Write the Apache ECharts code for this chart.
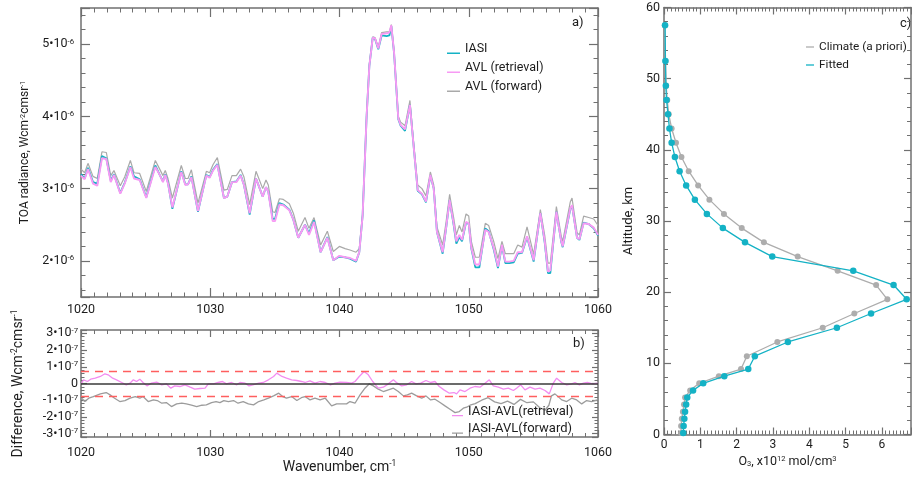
<!DOCTYPE html>
<html>
<head>
<meta charset="utf-8">
<script src="https://cdn.jsdelivr.net/npm/echarts@6/dist/echarts.min.js"></script>
<style>
  html, body { margin: 0; padding: 0; background: #fff; }
  #main { width: 912px; height: 477px; }
</style>
</head>
<body>
<div id="main"></div>
<script>
// a) TOA radiance spectra, values in units of 1e-6 W cm-2 cm sr-1
var wnA = [
  1020.00,1020.28,1020.54,1020.93,1021.26,1021.62,1021.96,1022.30,1022.55,1023.04,
  1023.38,1023.82,1024.10,1024.54,1025.05,1025.75,1026.09,1026.34,1026.52,1026.73,
  1027.07,1027.76,1028.07,1028.28,1028.54,1029.05,1029.70,1029.95,1030.21,1030.55,
  1031.06,1031.32,1031.68,1032.02,1032.35,1032.61,1033.05,1033.54,1034.06,1034.31,
  1034.49,1034.83,1035.01,1035.35,1035.65,1036.12,1036.43,1036.81,1037.33,1037.64,
  1038.03,1038.54,1039.06,1039.52,1039.99,1040.43,1040.81,1041.28,1041.53,1041.79,
  1042.10,1042.31,1042.57,1042.75,1043.00,1043.26,1043.65,1043.86,1044.01,1044.22,
  1044.55,1044.73,1045.07,1045.45,1045.71,1046.05,1046.38,1046.69,1047.03,1047.29,
  1047.54,1047.98,1048.24,1048.52,1048.83,1049.04,1049.27,1049.48,1049.79,1050.00,
  1050.20,1050.51,1050.82,1051.28,1051.54,1051.93,1052.26,1052.57,1052.83,1053.14,
  1053.48,1053.79,1054.12,1054.51,1055.02,1055.54,1055.88,1056.13,1056.31,1056.78,
  1057.16,1057.27,1057.86,1057.99,1058.38,1058.56,1058.89,1059.28,1059.67,1060.00
];
var iasi = [
  3.20,3.14,3.29,3.09,3.07,3.45,3.42,3.11,3.20,2.94,
  3.08,3.31,3.17,3.13,2.88,3.32,3.19,3.10,3.20,3.08,
  2.72,3.24,3.06,3.06,3.17,2.68,3.19,3.16,3.26,3.34,
  2.87,2.89,3.09,3.10,3.19,3.05,2.64,3.14,2.89,3.02,
  2.96,2.58,2.58,2.80,2.78,2.71,2.57,2.32,2.50,2.38,
  2.56,2.12,2.33,2.01,2.06,2.05,2.03,1.99,2.12,2.63,
  4.01,4.70,5.09,5.07,4.93,5.12,5.11,5.12,5.25,4.88,
  3.96,3.87,3.80,4.16,3.64,2.97,2.92,2.81,3.18,3.00,
  2.40,2.10,2.44,2.84,2.50,2.24,2.33,2.27,2.53,2.51,
  2.17,1.91,1.91,2.45,2.41,2.16,1.90,2.21,1.97,1.97,
  1.98,2.10,2.11,2.33,1.99,2.66,2.25,1.83,1.83,2.68,
  2.26,2.19,2.72,2.76,2.32,2.29,2.53,2.51,2.45,2.35
];
var avlRet = [
  3.18,3.13,3.27,3.07,3.04,3.42,3.41,3.09,3.19,2.93,
  3.07,3.30,3.14,3.12,2.87,3.30,3.19,3.09,3.19,3.07,
  2.74,3.23,3.05,3.06,3.16,2.69,3.18,3.15,3.25,3.33,
  2.87,2.89,3.09,3.09,3.18,3.05,2.66,3.14,2.89,3.02,
  2.96,2.55,2.55,2.78,2.77,2.70,2.57,2.32,2.50,2.36,
  2.54,2.12,2.32,2.01,2.07,2.05,2.04,2.00,2.12,2.63,
  4.01,4.70,5.09,5.08,4.94,5.14,5.15,5.16,5.26,4.89,
  3.97,3.88,3.82,4.16,3.64,2.98,2.93,2.82,3.19,3.00,
  2.40,2.12,2.45,2.84,2.52,2.27,2.36,2.29,2.54,2.52,
  2.18,1.95,1.95,2.43,2.40,2.18,1.92,2.22,1.99,1.99,
  2.00,2.12,2.12,2.34,2.01,2.66,2.27,1.85,1.87,2.68,
  2.27,2.20,2.73,2.77,2.32,2.30,2.52,2.51,2.46,2.36
];
var avlFwd = [
  3.27,3.22,3.35,3.17,3.14,3.51,3.50,3.18,3.25,3.04,
  3.16,3.39,3.22,3.21,2.96,3.39,3.27,3.18,3.25,3.14,
  2.87,3.32,3.14,3.14,3.26,2.80,3.24,3.22,3.33,3.43,
  2.98,2.99,3.18,3.18,3.27,3.16,2.78,3.24,3.00,3.12,
  3.05,2.68,2.67,2.86,2.85,2.79,2.66,2.41,2.60,2.45,
  2.60,2.22,2.41,2.13,2.20,2.17,2.15,2.12,2.17,2.65,
  4.03,4.72,5.10,5.09,4.96,5.16,5.17,5.17,5.27,4.90,
  4.00,3.92,3.87,4.22,3.68,3.05,3.00,2.90,3.23,3.05,
  2.47,2.22,2.53,2.92,2.60,2.36,2.49,2.40,2.65,2.62,
  2.27,2.05,2.05,2.52,2.49,2.27,2.03,2.27,2.10,2.10,
  2.10,2.22,2.19,2.47,2.09,2.71,2.35,1.97,1.97,2.75,
  2.34,2.27,2.82,2.87,2.39,2.36,2.62,2.60,2.58,2.49
];

// b) differences, units of 1e-7
var wnDiffRet = [
  1020.05,1020.2,1020.5,1020.75,1021.1,1021.5,1021.85,1022.1,1022.45,1022.75,
  1023.15,1023.5,1023.8,1024.05,1024.3,1024.55,1024.8,1025.1,1025.45,1025.85,
  1026.25,1026.6,1026.95,1027.25,1027.65,1028.05,1028.45,1028.8,1029.2,1029.6,
  1029.85,1030.25,1030.6,1030.95,1031.25,1031.65,1032.05,1032.3,1032.7,1033.0,
  1033.3,1033.75,1034.1,1034.5,1034.9,1035.15,1035.55,1035.9,1036.3,1036.7,
  1037.05,1037.33,1037.72,1038.1,1038.5,1038.9,1039.3,1039.65,1040.04,1040.55,
  1040.94,1041.2,1041.53,1041.9,1042.23,1042.57,1043.0,1043.39,1043.78,1044.17,
  1044.47,1044.81,1045.2,1045.58,1045.92,1046.28,1046.69,1047.05,1047.39,1047.72,
  1048.08,1048.5,1048.86,1049.06,1049.32,1049.71,1050.1,1050.48,1050.87,1051.26,
  1051.59,1051.9,1052.29,1052.68,1053.06,1053.45,1053.7,1054.02,1054.35,1054.74,
  1055.13,1055.51,1055.9,1056.23,1056.54,1056.8,1057.19,1057.58,1057.96,1058.22,
  1058.56,1058.87,1059.18,1059.59,1059.97
];
var diffRet = [
  0.02,0.22,0.12,0.26,0.32,0.42,0.58,0.52,0.32,0.22,
  0.06,-0.08,0.02,0.22,0.12,0.26,0.06,-0.14,0.02,0.08,
  -0.08,-0.02,-0.28,-0.14,-0.18,-0.08,-0.22,-0.34,-0.30,-0.28,
  -0.02,-0.02,0.06,0.12,-0.02,0.06,-0.08,0.06,0.02,-0.14,
  -0.08,0.02,0.06,0.22,0.42,0.62,0.42,0.32,0.22,0.18,
  0.12,0.06,0.16,0.02,0.12,0.06,-0.08,0.02,0.08,0.06,
  0.02,0.12,0.42,0.72,0.52,0.12,-0.28,-0.22,-0.02,0.22,
  0.02,-0.14,-0.08,0.12,-0.02,0.02,0.18,0.06,0.12,-0.18,
  -0.38,-0.58,-0.54,-0.62,-0.38,-0.48,-0.28,-0.18,-0.22,0.02,
  0.22,-0.14,-0.22,-0.34,-0.28,-0.42,-0.28,-0.08,-0.38,-0.22,
  -0.34,-0.28,-0.42,-0.62,0.02,0.32,0.06,-0.08,-0.02,0.06,
  -0.08,0.02,0.06,-0.02,0.02
];
var wnDiffFwd = [
  1020.05,1020.3,1020.6,1020.95,1021.5,1021.95,1022.25,1022.6,1023.0,1023.4,
  1023.8,1024.2,1024.55,1024.8,1025.2,1025.6,1025.9,1026.25,1026.6,1027.0,
  1027.4,1027.8,1028.15,1028.55,1028.95,1029.35,1029.7,1030.1,1030.45,1030.75,
  1031.05,1031.4,1031.8,1032.15,1032.55,1032.95,1033.35,1033.75,1034.15,1034.5,
  1034.9,1035.3,1035.6,1035.9,1036.3,1036.7,1037.05,1037.33,1037.72,1038.1,
  1038.5,1038.9,1039.39,1039.78,1040.17,1040.55,1040.81,1041.2,1041.59,1041.97,
  1042.31,1042.62,1043.0,1043.39,1043.78,1044.17,1044.55,1044.94,1045.25,1045.58,
  1045.97,1046.36,1046.69,1047.05,1047.39,1047.78,1048.16,1048.55,1048.94,1049.27,
  1049.58,1049.84,1050.1,1050.5,1051.0,1051.5,1052.0,1052.5,1053.0,1053.5,
  1054.0,1054.5,1055.0,1055.5,1055.9,1056.2,1056.4,1056.67,1057.19,1057.58,
  1057.96,1058.35,1058.74,1059.12,1059.5,1059.97
];
var diffFwd = [
  -0.88,-1.08,-0.88,-0.78,-0.62,-0.54,-0.68,-0.88,-1.08,-1.02,
  -0.88,-0.78,-0.88,-0.78,-1.08,-0.98,-1.02,-1.18,-1.14,-1.38,
  -1.22,-1.18,-1.22,-1.30,-1.38,-1.30,-1.28,-1.14,-1.08,-1.14,
  -1.02,-1.08,-1.02,-1.18,-1.08,-1.22,-1.28,-1.08,-0.98,-0.88,
  -0.74,-0.58,-0.78,-0.88,-0.78,-1.02,-0.85,-0.78,-0.98,-0.88,
  -0.98,-0.88,-1.34,-1.22,-1.22,-1.22,-1.08,-1.18,-0.68,-0.28,
  -0.02,-0.14,-0.34,-0.48,-0.38,-0.28,-0.48,-0.74,-0.68,-0.58,
  -0.74,-0.88,-0.74,-0.98,-0.94,-1.14,-1.34,-1.54,-1.74,-1.68,
  -1.48,-1.42,-1.30,-1.20,-1.00,-0.85,-1.10,-1.20,-1.05,-1.25,
  -0.95,-1.15,-1.10,-1.45,-1.60,-1.30,-0.74,-0.62,-0.98,-1.08,
  -0.88,-0.98,-1.22,-1.02,-1.08,-0.98
];
var diffBand = 0.75;

// c) ozone profile, altitude in km, O3 in 1e12 mol/cm3
var altitude = [0.2,1.2,2.2,3.2,4.2,5.2,6.2,7.2,8.2,9.2,11,13,15,17,19,21,23,25,27,29,31,33,35,37,39,41,43,45,47,49,52.5,57.5];
var climate = [0.47,0.47,0.49,0.52,0.55,0.58,0.72,0.97,1.51,2.12,2.28,3.12,4.37,5.24,6.15,5.84,4.78,3.68,2.75,2.14,1.65,1.25,0.94,0.68,0.48,0.33,0.21,0.13,0.09,0.06,0.04,0.02];
var fitted = [0.53,0.54,0.56,0.58,0.61,0.64,0.80,1.08,1.66,2.32,2.50,3.41,4.76,5.70,6.68,6.32,5.21,2.98,2.23,1.62,1.18,0.85,0.61,0.43,0.30,0.21,0.15,0.11,0.07,0.05,0.04,0.03];

var font = 'Roboto, sans-serif';
var ink = '#1c1c1c';
var frameColor = '#707070';
var cCyan = '#14b2c5';
var cPink = '#f79af4';
var cGray = '#a9a9a9';
var cBand = '#ff5f5f';

function zip(xs, ys) {
    return xs.map(function (x, i) { return [x, ys[i]]; });
}

function frameAxis(grid, pos, min, max, o) {
    o = o || {};
    var ax = {
        type: 'value', gridIndex: grid, position: pos, min: min, max: max,
        axisLine: { show: true, onZero: false, lineStyle: { color: frameColor, width: 1.5 } },
        axisTick: { show: true, inside: true, length: o.major || 9, lineStyle: { color: frameColor, width: 1.2 } },
        minorTick: { show: true, splitNumber: o.minor || 5, length: o.minorLen || 4.5, lineStyle: { color: frameColor, width: 1 } },
        splitLine: { show: false },
        minorSplitLine: { show: false },
        axisLabel: { show: false }
    };
    if (o.interval) ax.interval = o.interval;
    if (o.splitNumber) ax.splitNumber = o.splitNumber;
    if (o.label) ax.axisLabel = o.label;
    if (o.name) {
        ax.name = o.name;
        ax.nameLocation = 'middle';
        ax.nameGap = o.nameGap;
        if (o.nameRotate) ax.nameRotate = o.nameRotate;
        ax.nameTextStyle = o.nameStyle;
    }
    return ax;
}

function supLabel(size, exp, margin) {
    return {
        show: true, margin: margin, color: ink, fontFamily: font, fontSize: size,
        formatter: function (v) {
            if (Math.abs(v - Math.round(v)) > 1e-6) return '';
            if (v === 0) return '{m|0}';
            return '{m|' + v + '•10}{s|' + exp + '}';
        },
        rich: {
            m: { fontSize: size, fontFamily: font, color: ink },
            s: { fontSize: size * 0.62, fontFamily: font, color: ink, verticalAlign: 'top' }
        }
    };
}

function nameStyle(size) {
    return {
        fontSize: size, fontFamily: font, color: ink,
        rich: {
            s: { fontSize: size * 0.6, fontFamily: font, color: ink, verticalAlign: 'top' },
            d: { fontSize: size * 0.6, fontFamily: font, color: ink, verticalAlign: 'bottom' }
        }
    };
}

function intLabel(size, margin) {
    return {
        show: true, margin: margin, color: ink, fontFamily: font, fontSize: size,
        formatter: function (v) {
            return Math.abs(v - Math.round(v)) > 1e-6 ? '' : String(v);
        }
    };
}

var lineIcon = 'path://M0,0L13,0L13,0Z M0,9.5L13,9.5L13,11L0,11Z';
var midIcon = 'path://M0,0L8,0L8,1.3L0,1.3Z';

var option = {
    backgroundColor: '#fff',
    animation: false,
    textStyle: { fontFamily: font },
    grid: [
        { left: 81, top: 8, width: 517, height: 289, outerBoundsMode: 'none' },
        { left: 81, top: 330, width: 517, height: 107, outerBoundsMode: 'none' },
        { left: 664, top: 7.5, width: 247, height: 427, outerBoundsMode: 'none' }
    ],
    xAxis: [
        frameAxis(0, 'bottom', 1020, 1060, { interval: 10, minor: 10, label: intLabel(12.5, 6) }),
        frameAxis(0, 'top', 1020, 1060, { interval: 10, minor: 10 }),
        frameAxis(1, 'bottom', 1020, 1060, {
            interval: 10, minor: 10, major: 7, minorLen: 4, label: intLabel(12.5, 9),
            name: 'Wavenumber, cm{s|-1}', nameGap: 23, nameStyle: nameStyle(14)
        }),
        frameAxis(1, 'top', 1020, 1060, { interval: 10, minor: 10, major: 7, minorLen: 4 }),
        frameAxis(2, 'bottom', 0, 6.8, {
            interval: 1, minor: 10, major: 7, minorLen: 4, label: intLabel(12, 4),
            name: 'O{d|3}, x10{s|12} mol/cm{s|3}', nameGap: 16, nameStyle: nameStyle(12.5)
        }),
        frameAxis(2, 'top', 0, 6.8, { interval: 1, minor: 10, major: 7, minorLen: 4 })
    ],
    yAxis: [
        frameAxis(0, 'left', 1.5, 5.5, {
            splitNumber: 4, minor: 5, label: supLabel(12.5, '-6', 7),
            name: 'TOA radiance, Wcm{s|-2}cmsr{s|-1}', nameGap: 42, nameRotate: 90, nameStyle: nameStyle(12)
        }),
        frameAxis(0, 'right', 1.5, 5.5, { splitNumber: 4, minor: 5 }),
        frameAxis(1, 'left', -3.2, 3.2, {
            splitNumber: 6, minor: 5, major: 6, minorLen: 3.5, label: supLabel(12.5, '-7', 3),
            name: 'Difference, Wcm{s|-2}cmsr{s|-1}', nameGap: 56, nameRotate: 90, nameStyle: nameStyle(14)
        }),
        frameAxis(1, 'right', -3.2, 3.2, { splitNumber: 6, minor: 5, major: 6, minorLen: 3.5 }),
        frameAxis(2, 'left', 0, 60, {
            interval: 10, minor: 5, major: 7, minorLen: 4, label: intLabel(12.5, 4),
            name: 'Altitude, km', nameGap: 29, nameRotate: 90, nameStyle: nameStyle(13)
        }),
        frameAxis(2, 'right', 0, 60, { interval: 10, minor: 5, major: 7, minorLen: 4 })
    ],
    legend: [
        {
            data: ['IASI', 'AVL (retrieval)', 'AVL (forward)'],
            left: 442, top: 37, orient: 'vertical', icon: lineIcon,
            itemWidth: 13, itemHeight: 14, itemGap: 6, selectedMode: false,
            textStyle: { fontSize: 12.5, fontFamily: font, color: ink }
        },
        {
            data: ['IASI-AVL(retrieval)', 'IASI-AVL(forward)'],
            left: 447, top: 400, orient: 'vertical', icon: lineIcon,
            itemWidth: 11, itemHeight: 14, itemGap: 4.5, selectedMode: false,
            textStyle: { fontSize: 13, fontFamily: font, color: ink }
        },
        {
            data: ['Climate (a priori)', 'Fitted'],
            left: 801, top: 36, orient: 'vertical', icon: midIcon,
            itemWidth: 8, itemHeight: 14, itemGap: 6, selectedMode: false,
            textStyle: { fontSize: 11.8, fontFamily: font, color: ink }
        }
    ],
    series: [
        {
            name: 'AVL (forward)', type: 'line', xAxisIndex: 0, yAxisIndex: 0,
            data: zip(wnA, avlFwd), showSymbol: false, symbol: 'none', color: cGray,
            lineStyle: { width: 1.2, color: cGray }, z: 2
        },
        {
            name: 'IASI', type: 'line', xAxisIndex: 0, yAxisIndex: 0,
            data: zip(wnA, iasi), showSymbol: false, symbol: 'none', color: cCyan,
            lineStyle: { width: 1.8, color: cCyan }, z: 3
        },
        {
            name: 'AVL (retrieval)', type: 'line', xAxisIndex: 0, yAxisIndex: 0,
            data: zip(wnA, avlRet), showSymbol: false, symbol: 'none', color: cPink,
            lineStyle: { width: 1.9, color: cPink }, z: 4
        },
        {
            name: 'IASI-AVL(retrieval)', type: 'line', xAxisIndex: 2, yAxisIndex: 2,
            data: zip(wnDiffRet, diffRet), showSymbol: false, symbol: 'none', color: '#f38cf0',
            lineStyle: { width: 1.3, color: '#f38cf0' }, z: 3,
            markLine: {
                silent: true, symbol: 'none', label: { show: false },
                lineStyle: { color: cBand, width: 1.4, type: [8, 6], opacity: 1 },
                emphasis: { disabled: true },
                data: [
                    { yAxis: diffBand, lineStyle: { color: cBand, width: 1.4, type: [8, 6] } },
                    { yAxis: -diffBand, lineStyle: { color: cBand, width: 1.4, type: [8, 6] } }
                ]
            }
        },
        {
            name: 'IASI-AVL(forward)', type: 'line', xAxisIndex: 2, yAxisIndex: 2,
            data: zip(wnDiffFwd, diffFwd), showSymbol: false, symbol: 'none', color: '#9c9c9c',
            lineStyle: { width: 1.3, color: '#9c9c9c' }, z: 2,
            markLine: {
                silent: true, symbol: 'none', label: { show: false },
                lineStyle: { color: '#3a3a3a', width: 1.6, type: 'solid', opacity: 1 },
                emphasis: { disabled: true },
                data: [{ yAxis: 0 }]
            }
        },
        {
            name: 'Climate (a priori)', type: 'line', xAxisIndex: 4, yAxisIndex: 4,
            data: zip(climate, altitude), symbol: 'circle', symbolSize: 6, color: '#adadad',
            lineStyle: { width: 1.3, color: '#adadad' }, itemStyle: { color: '#adadad' }, z: 2
        },
        {
            name: 'Fitted', type: 'line', xAxisIndex: 4, yAxisIndex: 4,
            data: zip(fitted, altitude), symbol: 'circle', symbolSize: 6.5, color: cCyan,
            lineStyle: { width: 1.3, color: cCyan }, itemStyle: { color: cCyan }, z: 3
        }
    ],
    graphic: [
        { type: 'text', left: 572, top: 16, style: { text: 'a)', fontSize: 13, fontFamily: font, fill: ink } },
        { type: 'text', left: 573, top: 337, style: { text: 'b)', fontSize: 13, fontFamily: font, fill: ink } },
        { type: 'text', left: 900, top: 17, style: { text: 'c)', fontSize: 13, fontFamily: font, fill: ink } }
    ]
};

var chart = echarts.init(document.getElementById('main'));
chart.setOption(option);
</script>
</body>
</html>
